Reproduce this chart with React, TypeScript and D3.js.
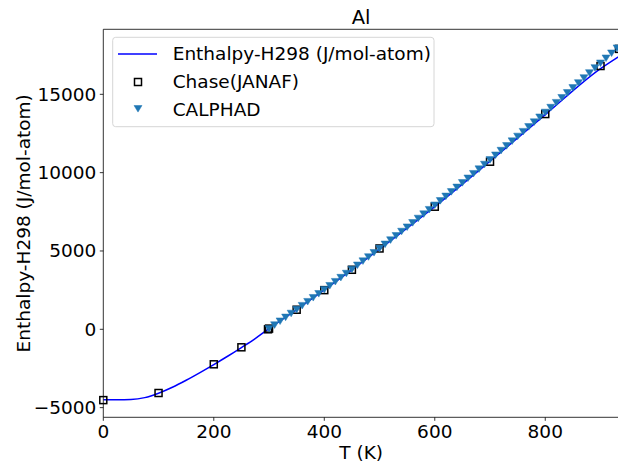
import React from "react";
import * as d3 from "d3";

const lineT = [0, 25, 50, 75, 100, 125, 150, 175, 200, 225, 250, 275, 298.15, 350, 400, 450, 500, 600, 700, 800, 900, 933.47];
const lineH = [-4500, -4499, -4480, -4360, -4080, -3700, -3250, -2760, -2250, -1720, -1165, -590, 0, 1255, 2510, 3800, 5120, 7830, 10730, 13700, 16640, 17420];

const chaseT = [0, 100, 200, 250, 298.15, 300, 350, 400, 450, 500, 600, 700, 800, 900, 933.47];
const chaseH = [-4520, -4066, -2234, -1149, 0, 45, 1250, 2500, 3800, 5160, 7826, 10698, 13740, 16807, 17900];

const calphadT = [
  300, 310, 320, 330, 340, 350, 360, 370, 380, 390,
  400, 410, 420, 430, 440, 450, 460, 470, 480, 490,
  500, 510, 520, 530, 540, 550, 560, 570, 580, 590,
  600, 610, 620, 630, 640, 650, 660, 670, 680, 690,
  700, 710, 720, 730, 740, 750, 760, 770, 780, 790,
  800, 810, 820, 830, 840, 850, 860, 870, 880, 890,
  900, 910, 920, 930,
];
const calphadH = [
  45, 289, 534, 780, 1028, 1277, 1527, 1779, 2032, 2286,
  2542, 2799, 3057, 3317, 3578, 3840, 4104, 4369, 4635, 4903,
  5172, 5442, 5714, 5987, 6261, 6537, 6814, 7092, 7372, 7653,
  7935, 8219, 8504, 8790, 9078, 9367, 9657, 9949, 10242, 10536,
  10832, 11129, 11427, 11727, 12028, 12330, 12634, 12939, 13245, 13553,
  13862, 14172, 14484, 14797, 15111, 15427, 15744, 16062, 16382, 16703,
  17000, 17320, 17640, 17960,
];

const xTicks = [0, 200, 400, 600, 800];
const yTicks = [-5000, 0, 5000, 10000, 15000];

const title = "Al";
const xLabel = "T (K)";
const yLabel = "Enthalpy-H298 (J/mol-atom)";
const legendLabels = ["Enthalpy-H298 (J/mol-atom)", "Chase(JANAF)", "CALPHAD"];

const W = 618;
const H = 465;
const FONT = "DejaVu Sans, sans-serif";
const TRI = "#1f77b4";
const FS = 18.5;

export default function App() {
  const x = d3.scaleLinear().domain([0, 933.47]).range([103.3, 619]);
  const y = d3.scaleLinear().domain([-5617, 19150]).range([417.3, 29.3]);
  const left = 103.3, top = 29.3, bottom = 417.3, right = 619;

  const lineData = lineT.map((t, i) => [t, lineH[i]] as [number, number]);
  const linePath = d3
    .line<[number, number]>()
    .x((d) => x(d[0]))
    .y((d) => y(d[1]))
    .curve(d3.curveMonotoneX)(lineData) as string;

  const triPath = (cx: number, cy: number, s: number) =>
    `M${cx - s},${cy - s * 0.75}L${cx + s},${cy - s * 0.75}L${cx},${cy + s * 0.9}Z`;

  return (
    <svg width={W} height={H} style={{ position: "absolute", left: 0, top: 0, background: "#fff" }} fontFamily={FONT}>
      <rect x={0} y={0} width={W} height={H} fill="#fff" />
      <text x={(left + right) / 2} y={24} textAnchor="middle" fontSize={19.5} fill="#000">{title}</text>

      <defs>
        <clipPath id="plotclip">
          <rect x={left} y={top} width={right - left} height={bottom - top} />
        </clipPath>
      </defs>

      <g clipPath="url(#plotclip)">
        <path d={linePath} fill="none" stroke="#0000ff" strokeWidth={1.5} />
      </g>
      {chaseT.map((t, i) => (
        <rect key={"s" + i} x={x(t) - 3.5} y={y(chaseH[i]) - 3.5} width={7} height={7} fill="none" stroke="#000" strokeWidth={1.5} />
      ))}
      {calphadT.map((t, i) => (
        <path key={"t" + i} d={triPath(x(t), y(calphadH[i]), 4)} fill={TRI} stroke={TRI} strokeWidth={0.5} />
      ))}

      {/* spines */}
      <line x1={left} y1={top} x2={left} y2={bottom} stroke="#000" strokeWidth={0.8} />
      <line x1={left} y1={bottom} x2={right} y2={bottom} stroke="#000" strokeWidth={0.8} />
      <line x1={left} y1={top} x2={right} y2={top} stroke="#000" strokeWidth={0.8} />

      {xTicks.map((t) => (
        <g key={"xt" + t}>
          <line x1={x(t)} y1={bottom} x2={x(t)} y2={bottom + 3.5} stroke="#000" strokeWidth={0.8} />
          <text x={x(t)} y={bottom + 20.5} textAnchor="middle" fontSize={FS} fill="#000">{d3.format("d")(t)}</text>
        </g>
      ))}
      {yTicks.map((t) => (
        <g key={"yt" + t}>
          <line x1={left - 3.5} y1={y(t)} x2={left} y2={y(t)} stroke="#000" strokeWidth={0.8} />
          <text x={left - 7} y={y(t) + 6.5} textAnchor="end" fontSize={FS} fill="#000">{t < 0 ? "\u2212" + Math.abs(t) : String(t)}</text>
        </g>
      ))}

      <text x={(left + right) / 2} y={459} textAnchor="middle" fontSize={FS} fill="#000">{xLabel}</text>
      <text transform={`translate(30,${(top + bottom) / 2}) rotate(-90)`} textAnchor="middle" fontSize={FS} fill="#000">{yLabel}</text>

      {/* legend */}
      <rect x={112.7} y={37.3} width={321.3} height={89.4} rx={3} fill="#fff" fillOpacity={0.8} stroke="#d6d6d6" strokeWidth={1} />
      <line x1={118} y1={54} x2={157} y2={54} stroke="#0000ff" strokeWidth={1.5} />
      <rect x={134.5} y={78.5} width={7} height={7} fill="none" stroke="#000" strokeWidth={1.5} />
      <path d={triPath(138, 108.5, 4)} fill={TRI} stroke={TRI} strokeWidth={0.5} />
      <text x={172.7} y={60} fontSize={FS} fill="#000">{legendLabels[0]}</text>
      <text x={172.7} y={88} fontSize={FS} fill="#000">{legendLabels[1]}</text>
      <text x={172.7} y={116} fontSize={FS} fill="#000">{legendLabels[2]}</text>
    </svg>
  );
}
